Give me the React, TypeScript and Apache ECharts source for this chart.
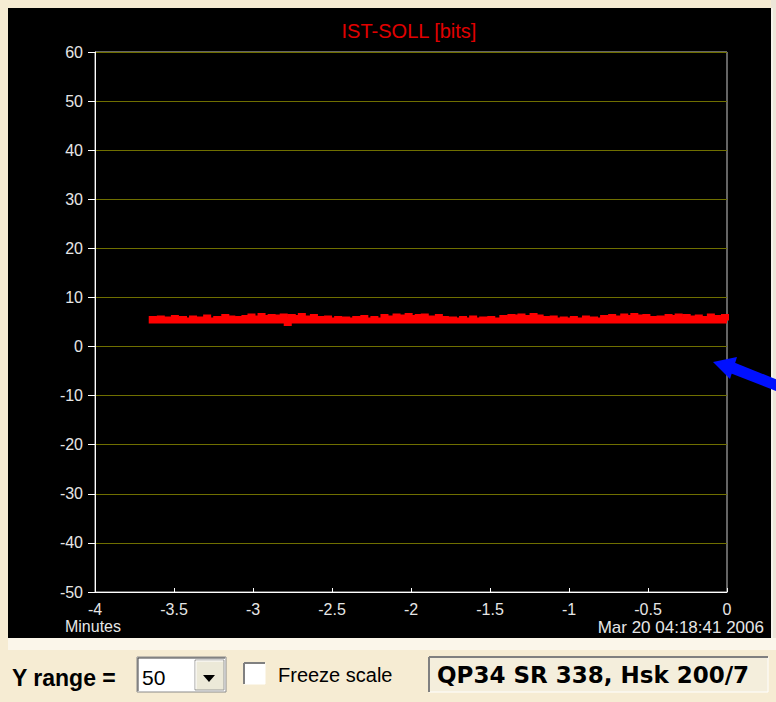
import React, { useEffect, useRef } from "react";
import * as echarts from "echarts";

// ---- data ----
const chartTitle = "IST-SOLL [bits]";
const xTickMin = -4;
const xTickMax = 0;
const xTickStep = 0.5;
const yTickMin = -50;
const yTickMax = 60;
const yTickStep = 10;
const traceStartMinutes = -3.66;
const traceEndMinutes = 0;
const traceValues = [
  5.3, 5.3, 5.6, 5.3, 5.3, 5.3, 5.7, 5.3, 5.3, 5.5, 5.3, 5.3, 5.3, 5.8, 5.3, 5.3,
  5.3, 5.6, 5.3, 5.3, 5.3, 5.3, 5.7, 5.3, 5.3, 5.3, 5.5, 5.3, 5.3, 5.9, 5.3, 5.3,
  5.3, 5.3, 5.6, 5.3, 5.3, 5.3, 6.0, 5.3, 5.3, 5.7, 5.3, 5.3, 5.3, 5.6, 5.3, 5.3,
  5.8, 5.3, 5.3, 6.1, 5.3, 5.3, 5.7, 5.3, 6.2, 5.3, 5.3, 5.8, 5.3, 6.0, 5.3, 5.3,
  5.9, 5.3, 5.3, 6.1, 5.3, 4.8, 5.3, 6.0, 5.3, 5.3, 5.8, 5.3, 6.2, 5.3, 5.3, 5.7,
  5.3, 5.3, 6.0, 5.3, 5.3, 5.6, 5.3, 5.3, 5.3, 5.7, 5.3, 5.3, 5.3, 5.3, 5.6, 5.3,
  5.3, 5.3, 5.5, 5.3, 5.3, 5.3, 5.3, 5.6, 5.3, 5.3, 5.3, 5.8, 5.3, 5.3, 5.3, 5.3,
  5.6, 5.3, 5.3, 5.3, 5.3, 6.0, 5.3, 5.3, 5.7, 5.3, 5.3, 6.1, 5.3, 5.3, 5.9, 5.3,
  5.3, 6.2, 5.3, 5.3, 5.8, 5.3, 6.0, 5.3, 5.3, 6.1, 5.3, 5.3, 5.7, 5.3, 5.3, 5.3,
  6.0, 5.3, 5.3, 5.6, 5.3, 5.3, 5.3, 5.5, 5.3, 5.3, 5.3, 5.3, 5.6, 5.3, 5.3, 5.3,
  5.3, 5.7, 5.3, 5.3, 5.3, 5.3, 5.5, 5.3, 5.3, 5.3, 5.6, 5.3, 5.3, 5.3, 5.3, 5.3,
  5.8, 5.3, 5.3, 5.3, 6.0, 5.3, 5.3, 5.9, 5.3, 6.1, 5.3, 5.3, 5.8, 5.3, 5.3, 6.2,
  5.3, 5.3, 5.9, 5.3, 5.3, 5.6, 5.3, 5.3, 5.3, 5.7, 5.3, 5.3, 5.3, 5.3, 5.5, 5.3,
  5.3, 5.3, 5.3, 5.6, 5.3, 5.3, 5.3, 5.3, 5.3, 5.7, 5.3, 5.3, 5.3, 5.5, 5.3, 5.3,
  5.3, 5.3, 5.8, 5.3, 5.3, 5.3, 6.0, 5.3, 5.3, 5.7, 5.3, 5.3, 6.1, 5.3, 5.3, 5.8,
  5.3, 6.2, 5.3, 5.3, 5.9, 5.3, 5.3, 6.0, 5.3, 5.3, 5.6, 5.3, 5.3, 5.3, 5.7, 5.3,
  5.3, 5.3, 6.0, 5.3, 5.3, 5.8, 5.3, 6.1, 5.3, 5.3, 5.3, 6.0, 5.3, 5.3, 5.7, 5.3,
  5.3, 5.9, 5.3, 5.3, 5.6, 5.3, 5.3, 6.1, 5.3, 5.3, 5.8, 5.3, 5.3, 5.3, 6.0, 5.3,
];
const xAxisName = "Minutes";
const timestampLabel = "Mar 20 04:18:41 2006";
const yRangeLabel = "Y range =";
const yRangeValue = "50";
const freezeLabel = "Freeze scale";
const statusText = "QP34 SR 338, Hsk 200/7";

export default function App() {
  const ref = useRef<HTMLDivElement>(null);

  useEffect(() => {
    if (!ref.current) return;
    const chart = echarts.init(ref.current, undefined, { renderer: "svg" });
    const n = traceValues.length;
    const step = (traceEndMinutes - traceStartMinutes) / (n - 1);
    const seriesData = traceValues.map((v, i) => [traceStartMinutes + i * step, v]);

    const labelFont = "Arial, 'Liberation Sans', sans-serif";

    chart.setOption({
      animation: false,
      backgroundColor: "#F6ECD3",
      grid: {
        left: 95,
        top: 52,
        width: 632,
        height: 540,
        show: true,
        borderColor: "#c8c8c8",
        borderWidth: 1,
        backgroundColor: "transparent",
      },
      xAxis: {
        type: "value",
        min: xTickMin,
        max: xTickMax,
        interval: xTickStep,
        axisLine: { show: true, onZero: false, lineStyle: { color: "#ffffff", width: 1 } },
        axisTick: { show: true, inside: true, length: 4, lineStyle: { color: "#ffffff" } },
        axisLabel: { color: "#e6e6e6", fontSize: 16, fontFamily: labelFont, margin: 9 },
        splitLine: { show: false },
      },
      yAxis: {
        type: "value",
        min: yTickMin,
        max: yTickMax,
        interval: yTickStep,
        axisLine: { show: true, onZero: false, lineStyle: { color: "#ffffff", width: 1 } },
        axisTick: { show: true, length: 7, lineStyle: { color: "#ffffff" } },
        axisLabel: { color: "#e6e6e6", fontSize: 16, fontFamily: labelFont, margin: 12 },
        splitLine: { show: true, lineStyle: { color: "#6f6f00", width: 1 } },
      },
      series: [
        {
          type: "line",
          data: seriesData,
          showSymbol: false,
          symbol: "none",
          step: "middle",
          lineStyle: { color: "#ff0000", width: 6, join: "miter" },
          z: 3,
        },
      ],
      graphic: [
        // black panel
        { type: "rect", z: -10, shape: { x: 8, y: 8, width: 763, height: 630 }, style: { fill: "#000000" } },
        // right light edge
        { type: "rect", z: -10, shape: { x: 771, y: 0, width: 5, height: 640 }, style: { fill: "#ECE6D8" } },
        { type: "line", z: -9, shape: { x1: 772, y1: 8, x2: 772, y2: 638 }, style: { stroke: "#ffffff", lineWidth: 1 } },
        // light strip below panel
        { type: "rect", z: -10, shape: { x: 8, y: 638, width: 768, height: 12 }, style: { fill: "#FBF6EA" } },
        // title
        {
          type: "text",
          z: 10,
          x: 409,
          y: 31,
          style: { text: chartTitle, fill: "#e00000", font: `20px ${labelFont}`, textAlign: "center", textVerticalAlign: "middle" },
        },
        // axis name & timestamp
        {
          type: "text",
          z: 10,
          x: 93,
          y: 626,
          style: { text: xAxisName, fill: "#e6e6e6", font: `16px ${labelFont}`, textAlign: "center", textVerticalAlign: "middle" },
        },
        {
          type: "text",
          z: 10,
          x: 764,
          y: 627,
          style: { text: timestampLabel, fill: "#e6e6e6", font: `17px ${labelFont}`, textAlign: "right", textVerticalAlign: "middle" },
        },
        // blue arrow
        {
          type: "polygon",
          z: 10,
          shape: { points: [[733, 362], [778, 380], [776, 391], [730, 373]] },
          style: { fill: "#0010ff" },
        },
        {
          type: "polygon",
          z: 10,
          shape: { points: [[713, 362], [737, 357], [730, 379]] },
          style: { fill: "#0010ff" },
        },
        // Y range label
        {
          type: "text",
          z: 10,
          x: 12,
          y: 678,
          style: { text: yRangeLabel, fill: "#000000", font: `bold 23px ${labelFont}`, textVerticalAlign: "middle" },
        },
        // combo box
        { type: "rect", z: 10, shape: { x: 137, y: 657, width: 89, height: 35 }, style: { fill: "#ffffff", stroke: "#8a8a8a", lineWidth: 1 } },
        { type: "line", z: 11, shape: { x1: 138, y1: 658, x2: 225, y2: 658 }, style: { stroke: "#404040", lineWidth: 1 } },
        { type: "line", z: 11, shape: { x1: 138, y1: 658, x2: 138, y2: 691 }, style: { stroke: "#404040", lineWidth: 1 } },
        {
          type: "text",
          z: 11,
          x: 142,
          y: 677,
          style: { text: yRangeValue, fill: "#000000", font: `21px ${labelFont}`, textVerticalAlign: "middle" },
        },
        { type: "rect", z: 11, shape: { x: 195, y: 660, width: 29, height: 30 }, style: { fill: "#ECE9D8", stroke: "#9a9a9a", lineWidth: 1 } },
        { type: "line", z: 12, shape: { x1: 196, y1: 661, x2: 223, y2: 661 }, style: { stroke: "#ffffff", lineWidth: 1 } },
        { type: "line", z: 12, shape: { x1: 196, y1: 661, x2: 196, y2: 689 }, style: { stroke: "#ffffff", lineWidth: 1 } },
        { type: "polygon", z: 12, shape: { points: [[203, 675], [215, 675], [209, 682]] }, style: { fill: "#000000" } },
        // checkbox
        { type: "rect", z: 10, shape: { x: 244, y: 663, width: 21, height: 21 }, style: { fill: "#ffffff", stroke: "#ffffff", lineWidth: 1 } },
        { type: "line", z: 11, shape: { x1: 244, y1: 663, x2: 265, y2: 663 }, style: { stroke: "#808080", lineWidth: 2 } },
        { type: "line", z: 11, shape: { x1: 244, y1: 663, x2: 244, y2: 684 }, style: { stroke: "#808080", lineWidth: 2 } },
        {
          type: "text",
          z: 10,
          x: 278,
          y: 675,
          style: { text: freezeLabel, fill: "#000000", font: `20px ${labelFont}`, textVerticalAlign: "middle" },
        },
        // status box
        { type: "rect", z: 10, shape: { x: 429, y: 657, width: 339, height: 35 }, style: { fill: "#F4EEDC", stroke: "#ffffff", lineWidth: 1 } },
        { type: "line", z: 11, shape: { x1: 429, y1: 657, x2: 768, y2: 657 }, style: { stroke: "#808080", lineWidth: 2 } },
        { type: "line", z: 11, shape: { x1: 429, y1: 657, x2: 429, y2: 692 }, style: { stroke: "#808080", lineWidth: 2 } },
        {
          type: "text",
          z: 11,
          x: 437,
          y: 675,
          style: { text: statusText, fill: "#000000", font: `bold 23px 'DejaVu Sans', sans-serif`, textVerticalAlign: "middle" },
        },
      ],
    });

    return () => chart.dispose();
  }, []);

  return (
    <div
      ref={ref}
      style={{ position: "fixed", left: 0, top: 0, width: 776, height: 702 }}
    />
  );
}
